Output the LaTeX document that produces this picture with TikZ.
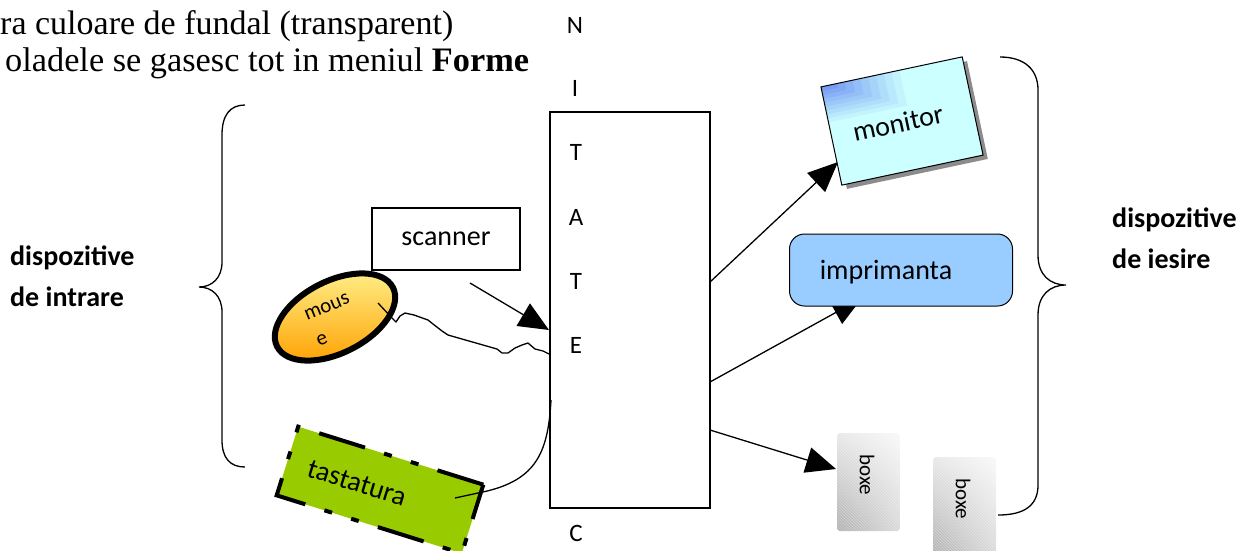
\documentclass[tikz,border=0pt]{standalone}
\usepackage{fontspec}
\setmainfont{Liberation Serif}
\newfontfamily\carl{Carlito}
\usetikzlibrary{arrows.meta,shapes.geometric,patterns,shadings}
\definecolor{mouseTop}{HTML}{FFF08A}
\definecolor{mouseBot}{HTML}{FFA000}
\definecolor{kbgreen}{HTML}{99CC00}
\definecolor{moncyan}{HTML}{CCFFFF}
\definecolor{monblue}{HTML}{5577EE}
\definecolor{printblue}{HTML}{99CCFF}
\definecolor{shadowgray}{HTML}{8C8C8C}
\begin{document}
\begin{tikzpicture}[x=1pt,y=-1pt,
  lbl/.style={font=\carl\fontsize{28}{34}\selectfont, inner sep=0pt},
  letter/.style={font=\carl\fontsize{25}{30}\selectfont, inner sep=0pt},
  small/.style={font=\carl\fontsize{21}{21}\selectfont, inner sep=0pt},
  side/.style={font=\carl\bfseries\fontsize{28}{41}\selectfont, inner sep=0pt, align=left, anchor=west},
  bigarrow/.style={line width=1.3pt, -{Triangle[length=30pt,width=26pt]}},
  brace/.style={line width=1.3pt},
  wire/.style={line width=1.3pt},
  boxeshade/.style={minimum width=63, minimum height=98, inner sep=0pt, rounded corners=3pt,
     upper left=gray!18, upper right=gray!5, lower left=gray!62, lower right=gray!30},
  hatch/.style={pattern=north west lines, pattern color=white, opacity=0.35, rounded corners=3pt},
]
\useasboundingbox (0,0) rectangle (1249,550);

% top text
\node[anchor=base west, inner sep=0pt, font=\fontsize{34}{38}\selectfont] (top1) at (0,34) {ra culoare de fundal (transparent)};
\node[anchor=base west, inner sep=0pt, font=\fontsize{34.3}{38}\selectfont] (top2) at (5,71) {oladele se gasesc tot in meniul \textbf{Forme}};

% central box and letters
\node[draw, line width=1.3pt, minimum width=160, minimum height=396, inner sep=0pt] (ctr) at (630,310) {};
\node[letter] (lN) at (575,25) {N};
\node[letter] (lI) at (575,88) {I};
\node[letter] (lT1) at (576,152) {T};
\node[letter] (lA) at (576,217) {A};
\node[letter] (lT2) at (576,281) {T};
\node[letter] (lE) at (576,345) {E};
\node[letter] (lC) at (576,533) {C};

% braces
\draw[brace] (245,105) .. controls (230,105) and (222,115) .. (222,135) -- (222,262)
  .. controls (222,278) and (212,287) .. (199,287) .. controls (212,287) and (222,296) .. (222,312)
  -- (222,440) .. controls (222,458) and (230,467) .. (245,467);
\draw[brace] (1000,57) .. controls (1025,57) and (1038,70) .. (1038,90) -- (1038,255)
  .. controls (1038,275) and (1050,285) .. (1066,285) .. controls (1050,285) and (1038,295) .. (1038,315)
  -- (1038,485) .. controls (1038,505) and (1025,515) .. (998,515);

\node[side] (inlbl) at (10,276) {dispozitive\\de intrare};
\node[side] (outlbl) at (1112,238) {dispozitive\\de iesire};

% scanner
\node[draw, line width=1.3pt, minimum width=148, minimum height=62, lbl] (scanner) at (446,239) {scanner};
\coordinate (scanarr) at (470,283);
\coordinate (scanend) at (549,330);
\draw[bigarrow] (scanarr) -- (scanend);

% mouse
\node[ellipse, draw, line width=6pt, minimum width=130, minimum height=72, rotate=27,
  top color=mouseTop, bottom color=mouseBot, inner sep=0pt] (mouse) at (335,317) {};
\node[small, rotate=22] (m1) at (327,307) {mous};
\node[small, rotate=22] (m2) at (322,340) {e};
\coordinate (mwstart) at (378,303);
\coordinate (mwend) at (549,354);
\draw[wire, line join=round] (mwstart) -- (392,318) -- (396,322) -- (400,316) -- (405,313) -- (414,315)
  -- (428,320) -- (433,324) -- (442,331) -- (448,335) -- (497,349) -- (502,353) -- (508,353)
  -- (515,348) -- (522,345) -- (528,343) -- (535,349) -- (543,351) -- (mwend);

% keyboard
\node[rotate=-17.4, minimum width=194, minimum height=72, fill=kbgreen, draw, line width=4pt,
  dash pattern=on 48pt off 20pt on 8pt off 20pt on 8pt off 20pt, inner sep=0pt] (kb) at (380,490) {};
\node[lbl, rotate=-17.4] (kbtxt) at (357,483) {tastatura};
\coordinate (kbw1) at (455,498);
\coordinate (kbw2) at (478,493);
\coordinate (kbw3) at (551,400);
\draw[wire] (kbw1) -- (kbw2) .. controls (535,482) and (548,455) .. (kbw3);

% arrows out
\coordinate (o1) at (710,282);
\coordinate (o2) at (710,382);
\coordinate (o3) at (710,430);
\coordinate (monend) at (838,162);
\coordinate (prend) at (862,298);
\coordinate (boxend) at (836,469);
\draw[bigarrow] (o1) -- (monend);
\draw[bigarrow] (o2) -- (prend);
\draw[bigarrow] (o3) -- (boxend);

% monitor
\node[rotate=12, minimum width=144, minimum height=100, fill=shadowgray, inner sep=0pt] (monshadow) at (907,125) {};
\node[rotate=12, minimum width=144, minimum height=100, fill=moncyan, inner sep=0pt] (monitor) at (902,121) {};
\begin{scope}[shift={(monitor.center)}, rotate=12]
  \foreach \i/\c in {0/8,1/16,2/24,3/32,4/40,5/48,6/56,7/64,8/72}{
    \fill[monblue!\c!moncyan] (-72,-50) rectangle ({-72+80-8*\i},{-50+36-4*\i});
  }
\end{scope}
\draw[line width=1pt] (monitor.north west) -- (monitor.north east) -- (monitor.south east) -- (monitor.south west) -- cycle;
\node[lbl, rotate=12] (montxt) at (898,123) {monitor};

% printer
\node[draw, line width=1pt, rounded corners=15pt, fill=printblue, minimum width=223, minimum height=72, inner sep=0pt] (printer) at (901,270) {};
\node[lbl] (prtxt) at (886,272) {imprimanta};

% speakers
\node[boxeshade, minimum height=98] (box1) at (868.5,482) {};
\fill[hatch] (box1.north west) rectangle (box1.south east);
\node[small, rotate=-90] (b1txt) at (867,475) {boxe};
\node[boxeshade, minimum height=100] (box2) at (964.5,507) {};
\fill[hatch] (box2.north west) rectangle (box2.south east);
\node[small, rotate=-90] (b2txt) at (963,499) {boxe};
\end{tikzpicture}
\end{document}
